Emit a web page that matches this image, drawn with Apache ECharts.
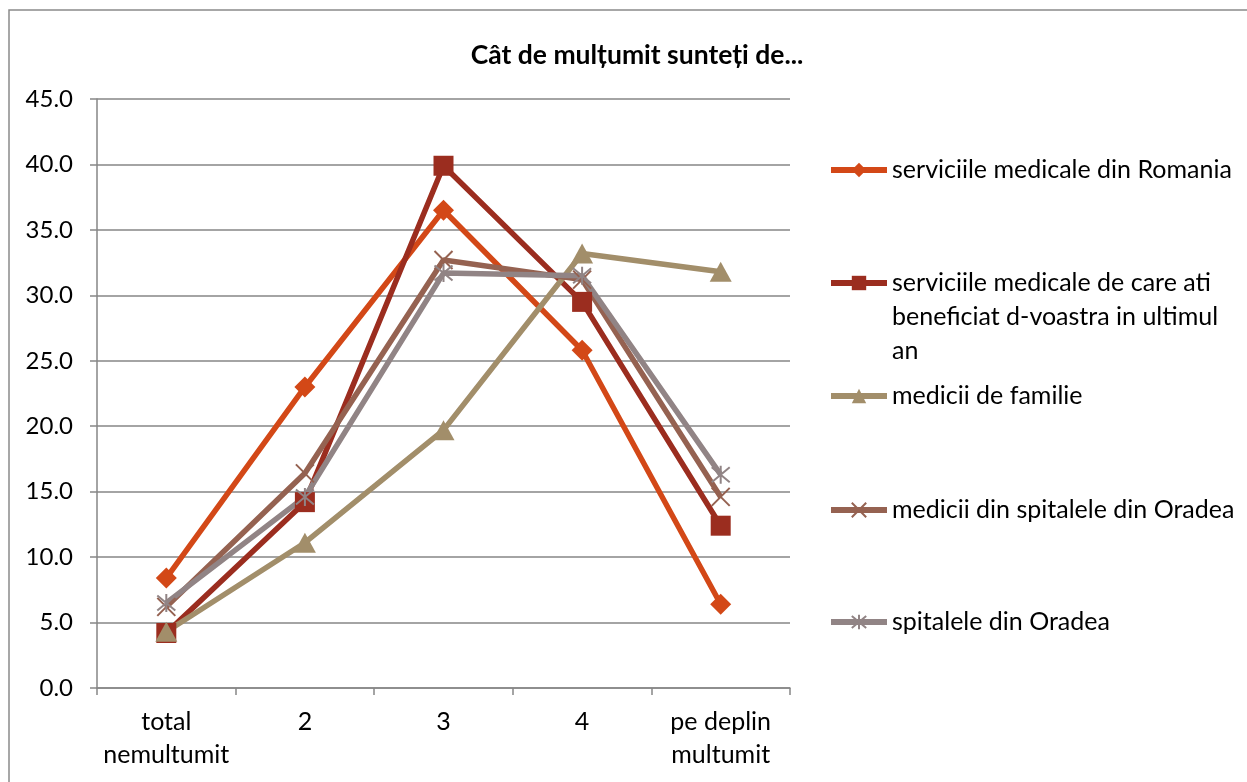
<!DOCTYPE html>
<html>
<head>
<meta charset="utf-8">
<script src="https://cdn.jsdelivr.net/npm/echarts@6/dist/echarts.min.js"></script>
<style>
  html, body { margin: 0; padding: 0; background: #fff; }
  #chart { width: 1247px; height: 782px; }
</style>
</head>
<body>
<div id="chart"></div>
<script>
// categories and values
const categories = ['total\nnemultumit', '2', '3', '4', 'pe deplin\nmultumit']
const seriesNames = [
  'serviciile medicale din Romania',
  'serviciile medicale de care ati beneficiat d-voastra in ultimul an',
  'medicii de familie',
  'medicii din spitalele din Oradea',
  'spitalele din Oradea'
]
const romania = [8.4, 23.0, 36.5, 25.8, 6.4]
const beneficiat = [4.2, 14.2, 39.9, 29.5, 12.4]
const familie = [4.3, 11.1, 19.7, 33.2, 31.8]
const mediciSpitale = [6.2, 16.4, 32.7, 31.2, 14.6]
const spitale = [6.5, 14.6, 31.7, 31.5, 16.3]
const yTicks = [0, 45, 5]

const font = 'Lato, "Open Sans", sans-serif'
const colors = ['#D34817', '#9B2D1F', '#A28E6A', '#956251', '#918485']
const symbols = [
  'diamond',
  'rect',
  'triangle',
  'path://M0,0L10,10M10,0L0,10',
  'path://M0,0L10,10M10,0L0,10M5,-1L5,11'
]
const symbolSizes = [[21, 21], [20, 20], [22, 20], [18, 18], [18, 18]]
const dataList = [romania, beneficiat, familie, mediciSpitale, spitale]

// legend rows (centre y of first text line)
const legendY = [170, 283, 396, 510, 622]

const chart = echarts.init(document.getElementById('chart'))

let series = []
for (let i = 0; i < 5; i++) {
  let strokeOnly = i >= 3
  series.push({
    name: seriesNames[i],
    type: 'line',
    data: dataList[i],
    symbol: symbols[i],
    symbolSize: symbolSizes[i],
    showAllSymbol: true,
    lineStyle: { color: colors[i], width: 5.5 },
    itemStyle: {
      color: colors[i],
      borderColor: strokeOnly ? colors[i] : 'transparent',
      borderWidth: strokeOnly ? 2 : 0
    },
    emphasis: { disabled: true },
    animation: false
  })
}

const lineH = 34
let legends = []
for (let i = 0; i < 5; i++) {
  let multi = i === 1
  // two empty lines first so the icon sits beside the first text line
  let itemText = multi
    ? '\n\nserviciile medicale de care ati\nbeneficiat d-voastra in ultimul\nan'
    : seriesNames[i]
  legends.push({
    data: [seriesNames[i]],
    left: 828,
    top: multi ? legendY[i] - 2.5 * lineH : legendY[i] - lineH / 2,
    padding: 0,
    orient: 'vertical',
    itemWidth: 56,
    itemHeight: 18,
    selectedMode: false,
    lineStyle: { width: 6 },
    formatter: () => itemText,
    textStyle: {
      fontFamily: font,
      fontSize: 25,
      color: '#000',
      lineHeight: lineH
    }
  })
}

chart.setOption({
  animation: false,
  title: {
    text: 'Cât de mulțumit sunteți de...',
    left: 632,
    top: 37,
    textAlign: 'center',
    textStyle: { fontFamily: font, fontSize: 26.5, fontWeight: 'bold', color: '#000' }
  },
  graphic: [{
    type: 'rect',
    shape: { x: 9, y: 10, width: 1400, height: 900 },
    style: { fill: 'none', stroke: '#8a8a8a', lineWidth: 1.5 },
    silent: true
  }],
  legend: legends,
  grid: { left: 97, right: 457, top: 99, bottom: 94 },
  xAxis: {
    type: 'category',
    data: categories,
    boundaryGap: true,
    axisLine: { lineStyle: { color: '#868686', width: 1.5 } },
    axisTick: { show: true, length: 7, lineStyle: { color: '#868686', width: 1.5 } },
    axisLabel: {
      fontFamily: font, fontSize: 25, color: '#000',
      lineHeight: 33, margin: 17, interval: 0
    }
  },
  yAxis: {
    type: 'value',
    min: yTicks[0],
    max: yTicks[1],
    interval: yTicks[2],
    axisLine: { show: true, lineStyle: { color: '#868686', width: 1.5 } },
    axisTick: { show: true, length: 7, lineStyle: { color: '#868686', width: 1.5 } },
    splitLine: { lineStyle: { color: '#868686', width: 1.5 } },
    axisLabel: {
      fontFamily: font, fontSize: 24, color: '#000', margin: 24,
      formatter: v => v.toFixed(1)
    }
  },
  series: series
})
</script>
</body>
</html>
